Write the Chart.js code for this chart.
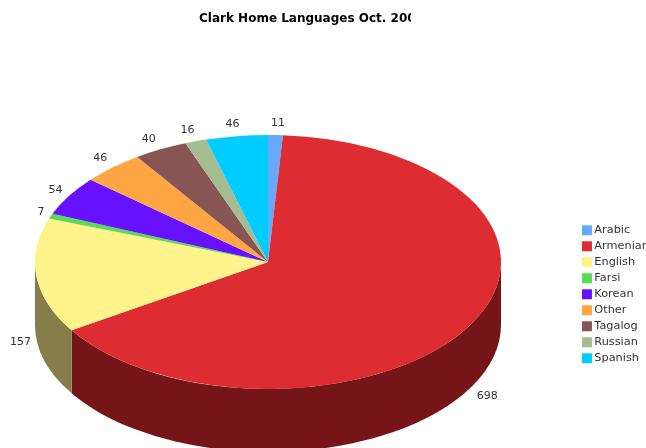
<!DOCTYPE html>
<html><head><meta charset="utf-8">
<style>html,body{margin:0;padding:0;background:#fff;overflow:hidden}canvas{display:block}</style>
<script src="https://cdn.jsdelivr.net/npm/chart.js@4"></script>
</head><body><canvas id="c" width="646" height="448"></canvas>
<script>
const titleText = "Clark Home Languages Oct. 200";
const categories = ["Arabic","Armenian","English","Farsi","Korean","Other","Tagalog","Russian","Spanish"];
const values = [11,698,157,7,54,46,40,16,46];
const topColors = ["#66AAFF","#DD2D32","#FFF48C","#55DD55","#6611FF","#FFA544","#885555","#A5BB90","#00CCFF"];
const sideColors = ["#38598A","#751518","#857E4A","#2D752D","#340A8A","#8A5724","#472D2D","#57634B","#006B8A"];

const CX=268, CY=262, RX=233, RY=127, DEPTH=63;
const FONT='"DejaVu Sans"';
const labelNudgeX = [2,4,1,6,1,-1,-4,-3,-2];
const labelNudgeY = [0,0,2,0,1,0,0,0,0];

const pie3d = {
  id:'pie3d',
  afterLayout(chart){
    const lg=chart.legend;
    lg.left=580.5; lg.right=720; lg.top=220; lg.bottom=448;
    const t=chart.titleBlock;
    const w=t.right-t.left; t.left=199; t.right=199+w; t.top=12; t.bottom=t.top+t.height;
    if(!t._clipped){
      const orig=t.draw.bind(t);
      t.draw=function(a){const c=chart.ctx;c.save();c.beginPath();c.rect(0,0,411,40);c.clip();orig(a);c.restore();};
      t._clipped=true;
    }
  },
  beforeDatasetsDraw(chart){
    const ctx=chart.ctx, els=chart.getDatasetMeta(0).data, e=els[0], R=e.outerRadius;
    // side wall: for each slice, the part of its rim on the front half of the ellipse
    els.forEach((el,i)=>{
      let a0=el.startAngle, a1=el.endAngle;
      const lo=Math.max(a0,0), hi=Math.min(a1,Math.PI);
      if(hi<=lo) return;
      ctx.save();
      ctx.fillStyle=sideColors[i];
      ctx.beginPath();
      ctx.ellipse(CX,CY,RX,RY,0,lo,hi,false);
      ctx.ellipse(CX,CY+DEPTH,RX,RY,0,hi,lo,true);
      ctx.closePath();
      ctx.fill();
      ctx.restore();
    });
    ctx.save();
    ctx.translate(CX,CY);ctx.scale(RX/R,RY/R);ctx.translate(-e.x,-e.y);
  },
  afterDatasetsDraw(chart){ chart.ctx.restore(); },
  afterDraw(chart){
    const ctx=chart.ctx, els=chart.getDatasetMeta(0).data;
    ctx.save();
    ctx.font='11px '+FONT; ctx.fillStyle='#333'; ctx.textAlign='center'; ctx.textBaseline='middle';
    els.forEach((el,i)=>{
      const a=(el.startAngle+el.endAngle)/2;
      const cs=Math.cos(a), sn=Math.sin(a);
      const x=CX+(RX+17)*cs+labelNudgeX[i], y=CY+(RY+12)*sn+(sn>0?DEPTH:0)+labelNudgeY[i];
      ctx.fillText(String(values[i]),x,y);
    });
    ctx.restore();
  }
};

new Chart(document.getElementById('c'),{
  type:'pie',
  data:{labels:categories,datasets:[{data:values,backgroundColor:topColors,borderWidth:0,clip:false}]},
  plugins:[pie3d],
  options:{
    responsive:false,animation:false,devicePixelRatio:1,
    plugins:{
      tooltip:{enabled:false},
      title:{display:true,text:titleText,align:'start',color:'#000',padding:0,font:{family:FONT,size:12,weight:'bold'}},
      legend:{display:true,position:'right',align:'start',
        labels:{usePointStyle:true,pointStyle:'rect',boxWidth:3.5,boxHeight:10,padding:4.7,color:'#333',font:{family:FONT,size:11.3}}}
    }
  }
});
</script></body></html>
